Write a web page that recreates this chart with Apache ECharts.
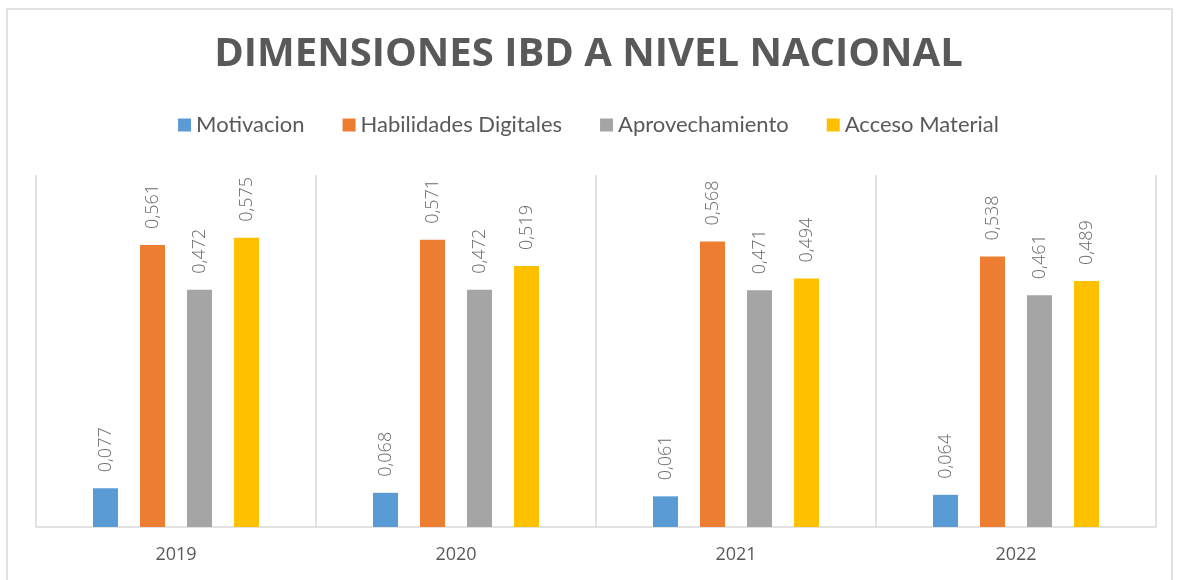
<!DOCTYPE html>
<html><head><meta charset="utf-8">
<script src="https://cdn.jsdelivr.net/npm/echarts@6/dist/echarts.min.js"></script>
<style>html,body{margin:0;padding:0;background:#fff}#c{width:1177px;height:580px}</style>
</head><body><div id="c"></div>
<script>
const categories = ['2019', '2020', '2021', '2022'];
const seriesNames = ['Motivacion', 'Habilidades Digitales', 'Aprovechamiento', 'Acceso Material'];
const motivacion = [0.077, 0.068, 0.061, 0.064];
const habilidades = [0.561, 0.571, 0.568, 0.538];
const aprovechamiento = [0.472, 0.472, 0.471, 0.461];
const acceso = [0.575, 0.519, 0.494, 0.489];
const colors = ['#5B9BD5', '#ED7D31', '#A5A5A5', '#FFC000'];
const values = [motivacion, habilidades, aprovechamiento, acceso];

const chart = echarts.init(document.getElementById('c'), null, {renderer: 'canvas'});
chart.setOption({
  animation: false,
  backgroundColor: '#fff',
  graphic: [{
    type: 'rect', shape: {x: 7, y: 9, width: 1165, height: 580},
    style: {fill: 'none', stroke: '#d9d9d9', lineWidth: 1.5}, silent: true
  }],
  title: {
    text: 'DIMENSIONES IBD A NIVEL NACIONAL',
    left: 'center', top: 30,
    textStyle: {fontFamily: 'Open Sans', fontWeight: 'bold', fontSize: 40, color: '#595959'}
  },
  legend: {
    top: 109, left: 'center',
    itemWidth: 13, itemHeight: 13, itemGap: 38,
    icon: 'rect',
    textStyle: {fontFamily: 'Lato', fontSize: 22, color: '#595959'},
    data: seriesNames
  },
  grid: {left: 36, right: 21, top: 175, bottom: 53, containLabel: false},
  xAxis: {
    type: 'category', data: categories,
    axisLine: {lineStyle: {color: '#d9d9d9', width: 1.5}},
    axisTick: {show: false},
    splitLine: {show: true, interval: 0, lineStyle: {color: '#d9d9d9', width: 1.5}},
    axisLabel: {fontFamily: 'Open Sans', fontSize: 18, color: '#595959', margin: 19}
  },
  yAxis: {
    type: 'value', min: 0, max: 0.7, show: false, splitLine: {show: false}
  },
  series: values.map((v, i) => ({
    name: seriesNames[i], type: 'bar', data: v,
    barWidth: 25, barGap: '88%',
    itemStyle: {color: colors[i]},
    label: {
      show: true, position: 'top', rotate: 90, align: 'left', verticalAlign: 'middle', distance: 16,
      fontFamily: 'Open Sans', fontWeight: 300, fontSize: 18, color: '#6a6a6a',
      formatter: p => p.value.toFixed(3).replace('.', ',')
    }
  }))
});
</script></body></html>
